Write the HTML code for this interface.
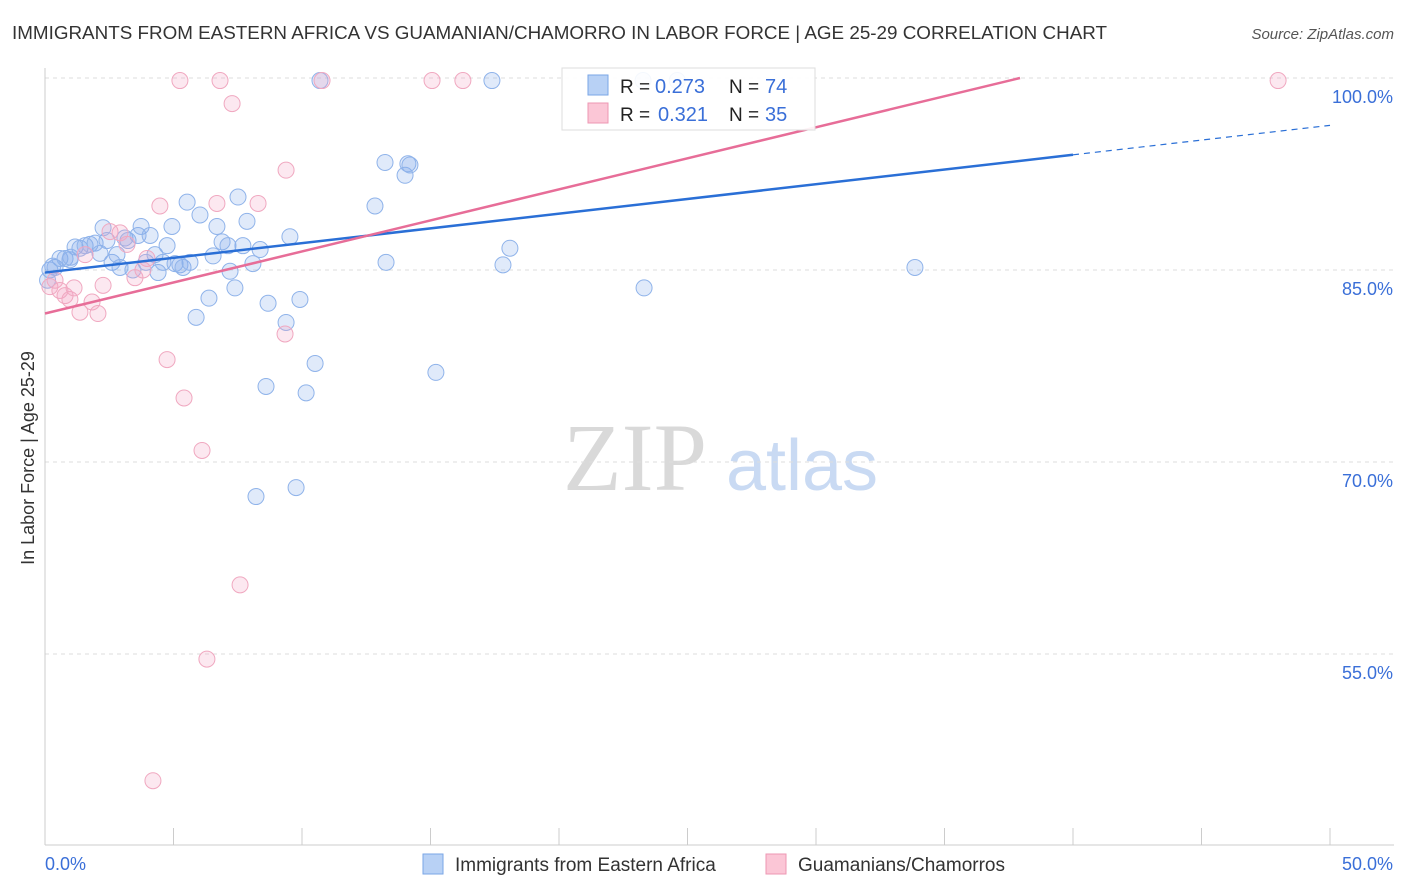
<!DOCTYPE html>
<html><head><meta charset="utf-8">
<style>
body{margin:0;background:#fff;font-family:"Liberation Sans",sans-serif;}
svg{display:block}
</style></head>
<body>
<svg id="chart" width="1406" height="892">
<text x="12" y="39" font-size="18" fill="#333" textLength="1095" lengthAdjust="spacingAndGlyphs">IMMIGRANTS FROM EASTERN AFRICA VS GUAMANIAN/CHAMORRO IN LABOR FORCE | AGE 25-29 CORRELATION CHART</text>
<text x="1394" y="39" font-size="15" fill="#555" text-anchor="end" font-style="italic">Source: ZipAtlas.com</text>
<g>
<text x="635" y="490" font-size="96" fill="#d9d9d9" font-family="Liberation Serif,serif" text-anchor="middle">ZIP</text>
<text x="802" y="490" font-size="72" fill="#c9daf3" text-anchor="middle">atlas</text>
</g>
<g id="grid"></g><g id="axes"></g><g id="marks"></g>
<g>
<rect x="562" y="68" width="253" height="62" fill="#fff" fill-opacity="0.9" stroke="#ddd"/>
<rect x="588" y="75" width="20" height="20" fill="#b8d1f5" stroke="#7aa6e6"/>
<text x="620" y="93" font-size="19" fill="#222">R =</text>
<text x="655" y="93" font-size="20" fill="#3a6fd8">0.273</text>
<text x="729" y="93" font-size="19" fill="#222">N =</text>
<text x="765" y="93" font-size="20" fill="#3a6fd8">74</text>
<rect x="588" y="103" width="20" height="20" fill="#fbc6d6" stroke="#ee97b3"/>
<text x="620" y="121" font-size="19" fill="#222">R =</text>
<text x="658" y="121" font-size="20" fill="#3a6fd8">0.321</text>
<text x="729" y="121" font-size="19" fill="#222">N =</text>
<text x="765" y="121" font-size="20" fill="#3a6fd8">35</text>
</g>
<g>
<rect x="423" y="854" width="20" height="20" fill="#b8d1f5" stroke="#7aa6e6"/>
<text x="455" y="871" font-size="19" fill="#333">Immigrants from Eastern Africa</text>
<rect x="766" y="854" width="20" height="20" fill="#fbc6d6" stroke="#ee97b3"/>
<text x="798" y="871" font-size="19" fill="#333">Guamanians/Chamorros</text>
</g>
<text x="34" y="458" font-size="18" fill="#333" text-anchor="middle" transform="rotate(-90 34 458)">In Labor Force | Age 25-29</text>
</svg>
<script>
const blueX=[0.19,0.39,0.58,0.78,0.97,1.17,1.36,1.56,1.75,1.95,2.14,2.26,2.41,2.61,2.80,2.92,3.11,3.23,3.42,3.62,3.74,3.93,4.09,4.28,4.40,4.59,4.75,4.94,5.06,5.25,5.37,5.53,5.64,5.88,6.03,6.38,6.54,6.69,6.89,7.12,7.20,7.39,7.51,7.70,7.86,8.09,8.21,8.37,8.60,8.68,9.38,9.53,9.77,9.92,10.16,10.51,10.70,12.84,13.23,13.27,14.01,14.12,14.20,15.21,17.39,17.82,18.09,23.31,33.85,23.27,24.6,0.1,0.3,1.0];
const blueY=[85.0,85.2,85.9,85.9,85.8,86.8,86.7,86.9,87.0,87.1,86.3,88.3,87.3,85.6,86.2,85.2,87.5,87.3,85.0,87.7,88.4,85.6,87.7,86.2,84.8,85.6,86.9,88.4,85.5,85.4,85.2,90.3,85.6,81.3,89.3,82.8,86.1,88.4,87.2,86.9,84.9,83.6,90.7,86.9,88.8,85.5,67.3,86.6,75.9,82.4,80.9,87.6,68.0,82.7,75.4,77.7,99.8,90.0,93.4,85.6,92.4,93.3,93.2,77.0,99.8,85.4,86.7,83.6,85.2,99.8,99.8,84.2,85.3,86.0];
const pinkX=[0.19,0.39,0.58,0.78,0.97,1.13,1.36,1.56,1.83,2.06,2.26,2.53,2.92,3.19,3.50,3.81,3.97,4.20,4.47,4.75,5.25,5.41,6.11,6.30,6.69,6.81,7.28,7.59,8.29,9.34,9.38,10.78,15.06,16.26,47.98];
const pinkY=[83.7,84.2,83.4,83.0,82.7,83.6,81.7,86.2,82.5,81.6,83.8,88.0,87.9,87.0,84.4,85.0,85.9,45.1,90.0,78.0,99.8,75.0,70.9,54.6,90.2,99.8,98.0,60.4,90.2,80.0,92.8,99.8,99.8,99.8,99.8];
const yTicks=[100,85,70,55];
const xTickLabels=["0.0%","50.0%"];
const blueTrend=[84.8,0.23];
const pinkTrend=[81.6,0.485];

const NS="http://www.w3.org/2000/svg";
const sx=v=>45+v/50*1285;
const sy=v=>78+(100-v)*12.8;
function mk(tag,attrs,parent){const e=document.createElementNS(NS,tag);for(const k in attrs)e.setAttribute(k,attrs[k]);parent.appendChild(e);return e;}
const grid=document.getElementById('grid'),axes=document.getElementById('axes'),marks=document.getElementById('marks');
yTicks.forEach(t=>{
 const l=mk('line',{x1:45,x2:1394,y1:sy(t),y2:sy(t),stroke:'#ddd','stroke-dasharray':'4,4'},grid);
 
 
 const tx=mk('text',{x:1393,y:sy(t)+25,'font-size':18,fill:'#3a6fd8','text-anchor':'end'},axes);
 tx.textContent=t.toFixed(1)+'%';
 
 
});
const xa=mk('line',{x1:45,x2:1394,y1:845,y2:845,stroke:'#ccc'},axes);


const ya=mk('line',{x1:45,x2:45,y1:68,y2:845,stroke:'#ccc'},axes);


for(let i=0;i<=10;i++){const t=mk('line',{x1:sx(i*5),x2:sx(i*5),y1:828,y2:845,stroke:'#ccc'},axes);
 
 }
const xl0=mk('text',{x:45,y:870,'font-size':18,fill:'#3a6fd8'},axes);xl0.textContent=xTickLabels[0];


const xl1=mk('text',{x:1393,y:870,'font-size':18,fill:'#3a6fd8','text-anchor':'end'},axes);xl1.textContent=xTickLabels[1];


blueX.forEach((x,i)=>{const c=mk('circle',{cx:sx(x),cy:sy(blueY[i]),r:8,fill:'rgba(130,170,235,0.25)',stroke:'#8fb3ea','stroke-width':1},marks);
 
 });
pinkX.forEach((x,i)=>{const c=mk('circle',{cx:sx(x),cy:sy(pinkY[i]),r:8,fill:'rgba(245,165,195,0.25)',stroke:'#f0a8c0','stroke-width':1},marks);
 
 });
const bl=mk('line',{x1:sx(0),y1:sy(blueTrend[0]),x2:sx(40),y2:sy(blueTrend[0]+blueTrend[1]*40),stroke:'#2a6fd6','stroke-width':2.5},marks);


const bd=mk('line',{x1:sx(40),y1:sy(blueTrend[0]+blueTrend[1]*40),x2:sx(50),y2:sy(blueTrend[0]+blueTrend[1]*50),stroke:'#2a6fd6','stroke-width':1.2,'stroke-dasharray':'6,5'},marks);


const xEnd=(100-pinkTrend[0])/pinkTrend[1];
const pl=mk('line',{x1:sx(0),y1:sy(pinkTrend[0]),x2:sx(xEnd),y2:sy(100),stroke:'#e76d98','stroke-width':2.5},marks);


</script>
</body></html>
